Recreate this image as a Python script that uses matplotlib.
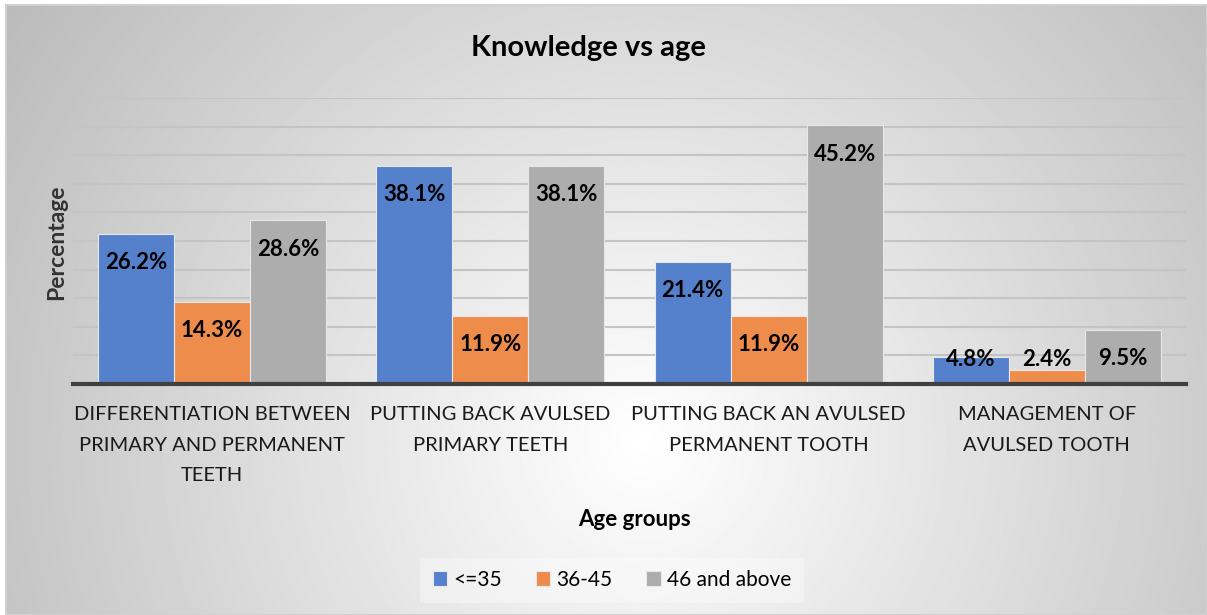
import matplotlib.pyplot as plt
import numpy as np
from matplotlib.patches import Rectangle

categories = [
    "DIFFERENTIATION BETWEEN\nPRIMARY AND PERMANENT\nTEETH",
    "PUTTING BACK AVULSED\nPRIMARY TEETH",
    "PUTTING BACK AN AVULSED\nPERMANENT TOOTH",
    "MANAGEMENT OF\nAVULSED TOOTH",
]
series_names = ["<=35", "36-45", "46 and above"]
age_35_under = [26.2, 38.1, 21.4, 4.8]
age_36_45 = [14.3, 11.9, 11.9, 2.4]
age_46_up = [28.6, 38.1, 45.2, 9.5]

colors = ["#5580CB", "#EE8C4C", "#ADADAD"]

plt.rcParams["font.family"] = ["Lato", "DejaVu Sans"]

W, H = 1207, 615
fig = plt.figure(figsize=(W / 100, H / 100), dpi=100)
fig.patch.set_facecolor("white")

# radial grey-to-white backdrop for the chart area
bg = fig.add_axes([0, 0, 1, 1], zorder=-10)
bg.set_xlim(0, W)
bg.set_ylim(H, 0)
bg.axis("off")
yy, xx = np.mgrid[0:H, 0:W]
r = np.sqrt((xx - 640) ** 2 + (yy - 440) ** 2) / 720
shade = 1 - 0.25 * np.clip(r, 0, 1.2)
bg.imshow(shade, cmap="gray", vmin=0, vmax=1, extent=(6, W, H, 5), aspect="auto")
bg.add_patch(Rectangle((6, 5), W - 6, H - 5, fill=False, edgecolor="#D0D0D0", lw=1.5))

ax = fig.add_axes([73 / W, 1 - 384 / H, 1113 / W, 286 / H])
ax.patch.set_alpha(0)

x = np.arange(len(categories))
bw = 0.273
groups = [age_35_under, age_36_45, age_46_up]
for i, (vals, name, c) in enumerate(zip(groups, series_names, colors)):
    pos = x + (i - 1) * bw
    ax.bar(pos, vals, bw, color=c, edgecolor="#E8E8E8", linewidth=0.8, label=name, zorder=3)
    for px, v in zip(pos, vals):
        ax.text(px, max(v - 5.0, 4.2), f"{v:.1f}%", ha="center", va="center",
                fontsize=16, fontweight="bold", color="black", zorder=4)

ax.set_xlim(-0.5, 3.5)
ax.set_ylim(0, 50)
ax.set_yticks(np.arange(0, 51, 5))
ax.yaxis.grid(True, color="#C4C4C4", linewidth=1.5, zorder=0)
ax.tick_params(axis="y", length=0, labelleft=False)
ax.tick_params(axis="x", length=0, pad=16)
ax.set_xticks(x)
ax.set_xticklabels(categories, fontsize=14.5, color="#1A1A1A", linespacing=1.97)
for s in ["top", "right", "left"]:
    ax.spines[s].set_visible(False)
ax.spines["bottom"].set_color("#404040")
ax.spines["bottom"].set_linewidth(3)
ax.spines["bottom"].set_zorder(5)

fig.text(588 / W, 1 - 48 / H, "Knowledge vs age", ha="center", va="center",
         fontsize=21, fontweight="bold")
fig.text(57 / W, 1 - 242 / H, "Percentage", ha="center", va="center",
         rotation=90, fontsize=16.5, fontweight="bold", color="#333333")
fig.text(634 / W, 1 - 520 / H, "Age groups", ha="center", va="center",
         fontsize=16, fontweight="bold")

leg = fig.legend(loc="center", bbox_to_anchor=(612 / W, 1 - 580 / H), ncol=3,
                 frameon=True, fontsize=15, handlelength=0.7, handleheight=0.7,
                 handletextpad=0.3, columnspacing=1.6, borderpad=0.6, fancybox=False)
leg.get_frame().set_facecolor("white")
leg.get_frame().set_alpha(0.35)
leg.get_frame().set_edgecolor("none")

fig.savefig("out.png", dpi=100)
